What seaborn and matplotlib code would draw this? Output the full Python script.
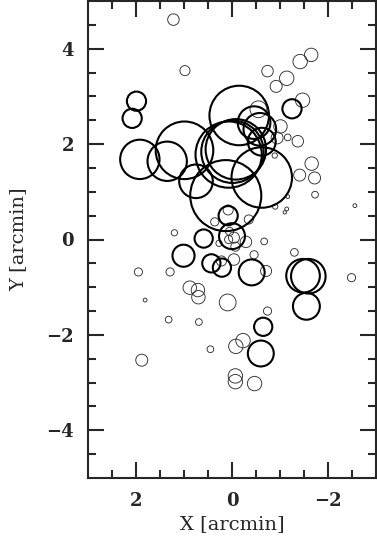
import numpy as np
import pandas as pd
import seaborn as sns
import matplotlib.pyplot as plt

# thick circles: centre x, y and radius in arcmin
thick_x = [1.99, 2.08, 1.92, 1.35, 0.99, 0.75, 0.13, -0.15, 0.07, -0.01, -0.08,
           -0.62, -0.46, -0.58, -0.62, -1.25, 0.08, 0.00, 0.59, 1.01, 0.43, 0.21,
           -0.41, -1.48, -1.59, -1.55, -0.65, -0.60]
thick_y = [2.90, 2.54, 1.68, 1.64, 1.87, 1.22, 0.92, 2.60, 1.78, 1.84, 1.89,
           1.30, 2.45, 2.31, 2.05, 2.74, 0.50, 0.07, 0.02, -0.34, -0.50, -0.59,
           -0.69, -0.76, -0.77, -1.40, -1.83, -2.39]
thick_r = [0.20, 0.20, 0.41, 0.41, 0.60, 0.35, 0.74, 0.62, 0.69, 0.65, 0.63,
           0.63, 0.34, 0.34, 0.29, 0.20, 0.20, 0.27, 0.19, 0.23, 0.19, 0.19,
           0.27, 0.35, 0.36, 0.28, 0.19, 0.27]

# thin circles
thin_x = [1.22, 0.98, -0.74, -0.92, -1.14, -1.42, -1.65, -1.47, -0.55, -1.01,
          -1.16, -1.37, -0.94, -1.66, -1.41, -1.72, -0.89, -1.73, -1.16, -0.90,
          -1.14, -1.10, -2.56, -0.67, -1.30, -0.71, -2.49, -0.74, 0.36, 0.08,
          -0.35, 1.20, 0.27, 0.05, -0.04, 0.07, -0.29, -0.07, -0.04, -0.46,
          0.22, 1.29, 1.95, 0.88, 0.71, 0.70, 0.09, 1.81, 1.32, 0.69, 0.45,
          1.88, -0.08, -0.23, -0.07, -0.07, -0.47]
thin_y = [4.61, 3.54, 3.53, 3.21, 3.38, 3.73, 3.87, 2.92, 2.73, 2.37,
          2.14, 2.06, 2.13, 1.59, 1.35, 1.29, 1.76, 0.94, 0.90, 0.69,
          0.64, 0.57, 0.71, -0.04, -0.27, -0.66, -0.80, -1.50, 0.37, 0.62,
          0.42, 0.14, -0.08, 0.17, 0.04, 0.00, -0.05, -0.15, -0.42, -0.32,
          -0.45, -0.68, -0.68, -1.01, -1.06, -1.21, -1.32, -1.27, -1.68, -1.73, -2.30,
          -2.53, -2.24, -2.12, -2.86, -2.98, -3.02]
thin_r = [0.12, 0.105, 0.12, 0.125, 0.15, 0.15, 0.14, 0.15, 0.175, 0.14,
          0.07, 0.12, 0.125, 0.14, 0.125, 0.125, 0.055, 0.07, 0.04, 0.055,
          0.04, 0.035, 0.04, 0.07, 0.08, 0.115, 0.085, 0.085, 0.085, 0.105,
          0.095, 0.065, 0.065, 0.085, 0.115, 0.085, 0.12, 0.095, 0.12, 0.085,
          0.105, 0.085, 0.085, 0.14, 0.14, 0.14, 0.175, 0.04, 0.07, 0.07, 0.07,
          0.125, 0.15, 0.15, 0.15, 0.15, 0.15]

thick = pd.DataFrame({"x": thick_x, "y": thick_y, "r": thick_r})
thin = pd.DataFrame({"x": thin_x, "y": thin_y, "r": thin_r})
thick["r2"] = thick["r"] ** 2
thin["r2"] = thin["r"] ** 2

sns.set_style("ticks")
plt.rcParams["font.family"] = ["DejaVu Serif"]

W, H, DPI = 377, 548, 100
fig = plt.figure(figsize=(W / DPI, H / DPI), dpi=DPI)
ax = fig.add_axes([88 / W, 1 - 478 / H, 288 / W, 477 / H])
ax.set_xlim(3, -3)
ax.set_ylim(-5, 5)

# marker area (pt^2) per arcmin^2 so circles are true to data radius
px_per_unit = abs(ax.transData.transform((1, 0))[0] - ax.transData.transform((0, 0))[0])
pt_per_unit = px_per_unit * 72 / DPI
k = (2 * pt_per_unit) ** 2

for df, lw, col in [(thin, 0.65, "#303030"), (thick, 1.5, "black")]:
    lo, hi = df["r2"].min(), df["r2"].max()
    sns.scatterplot(data=df, x="x", y="y", size="r2", sizes=(k * lo, k * hi),
                    size_norm=(lo, hi), facecolor="none", edgecolor=col,
                    linewidth=lw, legend=False, ax=ax, zorder=3 if lw > 1 else 2)

ax.set_xlim(3, -3)
ax.set_ylim(-5, 5)
ax.set_xticks([2, 0, -2])
ax.set_yticks([-4, -2, 0, 2, 4])
ax.set_xticks(np.arange(-2.5, 3.0, 0.5), minor=True)
ax.set_yticks(np.arange(-4.5, 5.0, 0.5), minor=True)
ax.set_xticklabels(["2", "0", "\u22122"])
ax.set_yticklabels(["\u22124", "\u22122", "0", "2", "4"])
ax.tick_params(which="both", direction="in", top=True, right=True, width=1.5,
               labelsize=13, pad=10)
ax.tick_params(which="major", length=11.5)
ax.tick_params(which="minor", length=6)
for lab in ax.get_xticklabels() + ax.get_yticklabels():
    lab.set_fontweight("bold")
for s in ax.spines.values():
    s.set_linewidth(1.5)

ax.set_xlabel("X [arcmin]", fontsize=14, labelpad=4)
ax.set_ylabel("Y [arcmin]", fontsize=14, labelpad=14)

fig.savefig("out.png", dpi=DPI)
